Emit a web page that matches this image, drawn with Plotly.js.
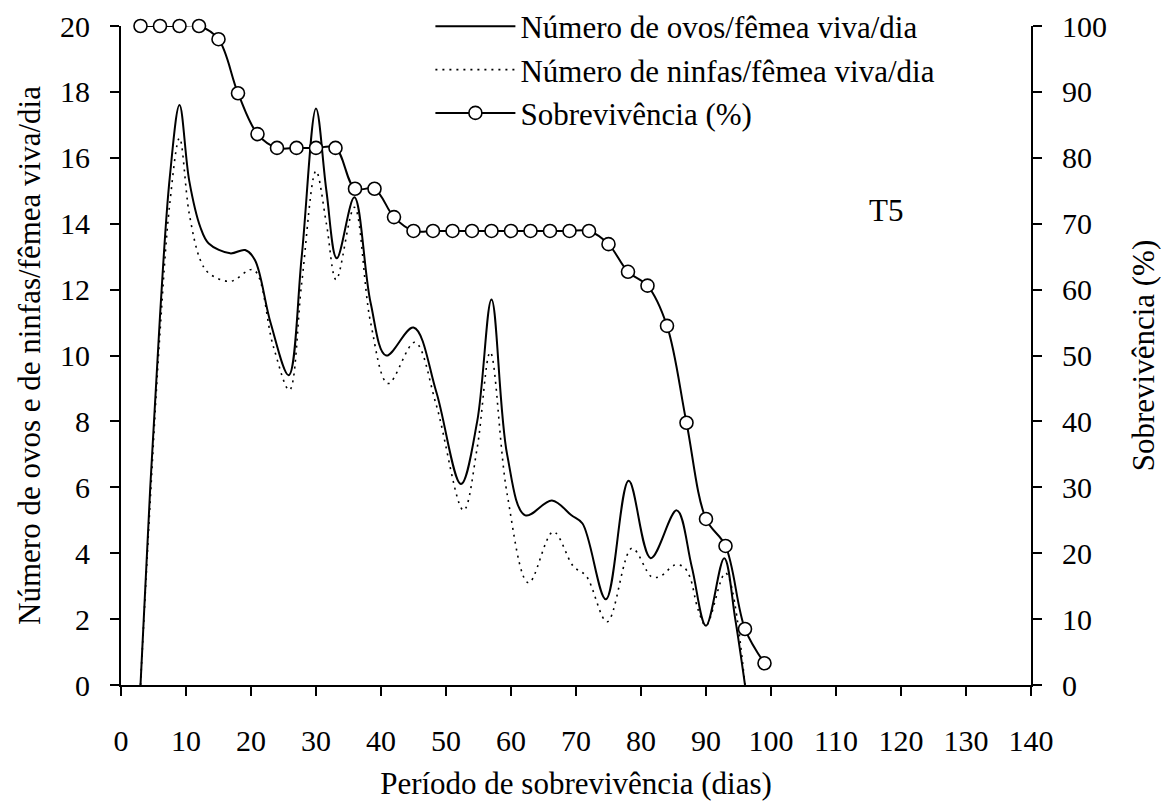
<!DOCTYPE html>
<html>
<head>
<meta charset="utf-8">
<script src="https://cdn.plot.ly/plotly-3.0.1.min.js"></script>
<style>body{margin:0;background:#fff}#chart{width:1161px;height:801px}</style>
</head>
<body>
<div id="chart"></div>
<script>
// Número de ovos/fêmea viva/dia
const ovosDias = [3, 4.5, 6, 7.5, 9, 10.5, 12.2, 13.5, 16.8, 19.1, 20.6, 23, 25.8, 27.8, 30, 31.6, 33.2, 35.9, 38.4, 40.8, 45, 48.5, 52.3, 54.8, 57, 59.4, 62.2, 66.3, 69.3, 71, 74.6, 78.1, 81.5, 85.5, 87.8, 90, 92.8, 94.5, 96];
const ovosValores = [0, 6.0, 11.2, 15.4, 17.6, 15.3, 13.9, 13.4, 13.1, 13.2, 12.9, 11.0, 9.4, 13.0, 17.5, 15.0, 12.95, 14.8, 11.6, 10.0, 10.85, 8.9, 6.1, 8.0, 11.7, 7.0, 5.15, 5.6, 5.15, 4.9, 2.6, 6.2, 3.85, 5.3, 3.6, 1.8, 3.85, 2.0, 0];
// Número de ninfas/fêmea viva/dia
const ninfasDias = [3, 4.5, 6, 7.5, 9, 10.5, 12.2, 13.5, 16.8, 20.4, 23.4, 25.9, 27.8, 30, 31.6, 33.1, 35.9, 38.4, 41.1, 45.2, 48.5, 52.7, 54.8, 56.8, 59.4, 62.7, 66.5, 69.6, 71.6, 74.8, 78.6, 81.6, 82.9, 85.2, 86.5, 87.5, 88.8, 90, 93, 96];
const ninfasValores = [0, 5.6, 10.7, 14.6, 16.6, 14.3, 12.9, 12.5, 12.25, 12.6, 10.3, 8.95, 12.2, 15.6, 14.0, 12.3, 14.5, 11.0, 9.15, 10.4, 8.5, 5.3, 7.2, 10.1, 5.8, 3.1, 4.65, 3.6, 3.3, 1.92, 4.15, 3.29, 3.29, 3.64, 3.59, 3.29, 2.28, 1.8, 3.4, 0];
// Sobrevivência (%)
const sobrevDias = [3, 6, 9, 12, 15, 18, 21, 24, 27, 30, 33, 36, 39, 42, 45, 48, 51, 54, 57, 60, 63, 66, 69, 72, 75, 78, 81, 84, 87, 90, 93, 96, 99];
const sobrevValores = [100, 100, 100, 100, 98, 89.8, 83.6, 81.5, 81.5, 81.5, 81.5, 75.3, 75.3, 71, 68.9, 68.9, 68.9, 68.9, 68.9, 68.9, 68.9, 68.9, 68.9, 68.9, 66.9, 62.7, 60.6, 54.5, 39.8, 25.2, 21.1, 8.5, 3.3];
const xTicks = [0, 10, 20, 30, 40, 50, 60, 70, 80, 90, 100, 110, 120, 130, 140];
const yTicks = [0, 2, 4, 6, 8, 10, 12, 14, 16, 18, 20];
const y2Ticks = [0, 10, 20, 30, 40, 50, 60, 70, 80, 90, 100];

const FONT = 'Liberation Serif';
const FS = 31;
const TFS = 30;
const traces = [
  {x: ninfasDias, y: ninfasValores, type: 'scatter', mode: 'lines', name: 'Número de ninfas/fêmea viva/dia',
   line: {color: '#000', width: 1.6, dash: '2px,5px', shape: 'spline', smoothing: 1}, legendgroup: 'b', legendrank: 2},
  {x: ovosDias, y: ovosValores, type: 'scatter', mode: 'lines', name: 'Número de ovos/fêmea viva/dia',
   line: {color: '#000', width: 2, shape: 'spline', smoothing: 1}, legendgroup: 'a', legendrank: 1},
  {x: sobrevDias, y: sobrevValores, type: 'scatter', mode: 'lines+markers', name: 'Sobrevivência (%)', yaxis: 'y2',
   cliponaxis: false,
   line: {color: '#000', width: 2, shape: 'spline', smoothing: 1},
   marker: {symbol: 'circle', size: 13, color: '#fff', line: {color: '#000', width: 1.6}}, legendgroup: 'c', legendrank: 3}
];
function axis(extra) {
  return Object.assign({showgrid: false, zeroline: false, showline: true, linecolor: '#000', linewidth: 2,
    ticks: 'outside', ticklen: 9, tickwidth: 2, tickcolor: '#000', automargin: false,
    tickfont: {family: FONT, size: TFS, color: '#000'}}, extra);
}
const layout = {
  width: 1161, height: 801,
  margin: {l: 121, r: 130, t: 26, b: 116, autoexpand: false},
  paper_bgcolor: '#fff', plot_bgcolor: '#fff',
  font: {family: FONT, size: FS, color: '#000'},
  xaxis: axis({range: [0, 140], tickvals: xTicks, ticktext: xTicks.map(String), ticklabelstandoff: 19,
    title: {text: 'Período de sobrevivência (dias)', font: {family: FONT, size: FS, color: '#000'}, standoff: 18}}),
  yaxis: axis({range: [0, 20], tickvals: yTicks, ticktext: yTicks.map(String), ticklabelstandoff: 14,
    title: {text: 'Número de ovos e de ninfas/fêmea viva/dia', font: {family: FONT, size: FS, color: '#000'}, standoff: 10}}),
  yaxis2: axis({range: [0, 100], tickvals: y2Ticks, ticktext: y2Ticks.map(String), ticklabelstandoff: 14,
    overlaying: 'y', side: 'right', anchor: 'x',
    title: {text: 'Sobrevivência (%)', font: {family: FONT, size: FS, color: '#000'}, standoff: 26}}),
  showlegend: true,
  legend: {x: 0.34, y: 1.04, xanchor: 'left', yanchor: 'top', bgcolor: 'rgba(0,0,0,0)',
    font: {family: FONT, size: FS, color: '#000'}, tracegroupgap: 5, traceorder: 'normal', itemwidth: 80},
  annotations: [{x: 117.7, y: 14.4, xref: 'x', yref: 'y', text: 'T5', showarrow: false,
    font: {family: FONT, size: FS, color: '#000'}}]
};
Plotly.newPlot('chart', traces, layout, {staticPlot: true, displayModeBar: false});
</script>
</body>
</html>
